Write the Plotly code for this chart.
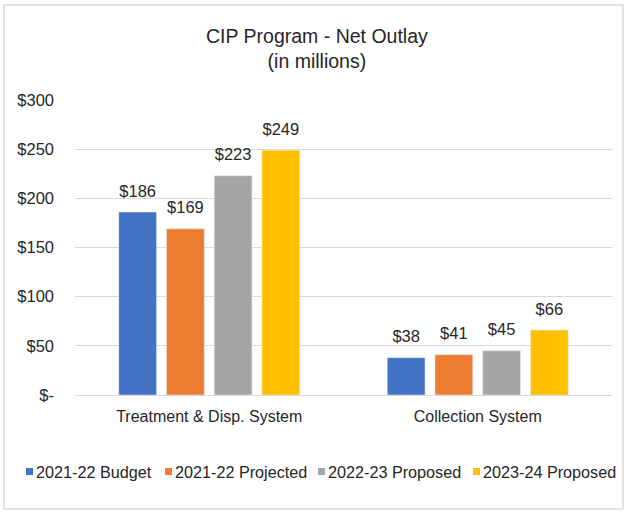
import plotly.graph_objects as go

categories = ["Treatment & Disp. System", "Collection System"]
series_names = ["2021-22 Budget", "2021-22 Projected", "2022-23 Proposed", "2023-24 Proposed"]
budget_2122 = [186, 38]
projected_2122 = [169, 41]
proposed_2223 = [223, 45]
proposed_2324 = [249, 66]
colors = ["#4472C4", "#ED7D31", "#A5A5A5", "#FFC000"]
tick_vals = [0, 50, 100, 150, 200, 250, 300]
tick_text = ["$-", "$50", "$100", "$150", "$200", "$250", "$300"]

FONT = "Liberation Sans, Arial, sans-serif"
TXT = "#262626"
W, H = 625, 515
ML, MR, MT, MB = 75, 13, 100, 120
PW, PH = W - ML - MR, H - MT - MB


def px2x(px):
    return (px - ML) / PW


def py2y(py):
    return (H - MB - py) / PH


fig = go.Figure()
for name, vals, col in zip(series_names, [budget_2122, projected_2122, proposed_2223, proposed_2324], colors):
    fig.add_trace(go.Bar(
        x=categories, y=vals, name=name, marker_color=col, showlegend=False,
        texttemplate="<span style='font-size:16.5px'>$%{y}</span><br>\u00a0",
        textposition="outside", constraintext="none",
        textfont=dict(size=8, color=TXT, family=FONT),
        cliponaxis=False,
    ))

# custom compact legend (Excel style: small square + label)
legend_marker_px = [26, 165, 318, 473]
shapes = [dict(type="rect", xref="paper", yref="paper",
               x0=px2x(4), x1=px2x(623), y0=py2y(509), y1=py2y(5),
               line=dict(color="#D9D9D9", width=1.5), fillcolor="rgba(0,0,0,0)", layer="below")]
annotations = []
for name, col, mx in zip(series_names, colors, legend_marker_px):
    shapes.append(dict(type="rect", xref="paper", yref="paper",
                       x0=px2x(mx), x1=px2x(mx + 7), y0=py2y(475), y1=py2y(468),
                       line=dict(width=0), fillcolor=col))
    annotations.append(dict(text=name, xref="paper", yref="paper",
                            x=px2x(mx + 8), y=py2y(471.5), xanchor="left", yanchor="middle",
                            showarrow=False, font=dict(size=16.2, color=TXT, family=FONT)))

fig.update_layout(
    width=W, height=H,
    margin=dict(l=ML, r=MR, t=MT, b=MB),
    paper_bgcolor="white", plot_bgcolor="white",
    font=dict(family=FONT, color=TXT),
    title=dict(text="CIP Program - Net Outlay<br>(in millions)", x=0.507, xanchor="center",
               y=0.917, yanchor="top", font=dict(size=19.5, color=TXT, family=FONT)),
    barmode="group", bargap=0.289, bargroupgap=0.209,
    showlegend=False,
    xaxis=dict(showline=True, linecolor="#D9D9D9", linewidth=1, ticks="", automargin=False,
               tickfont=dict(size=16, color=TXT, family=FONT), ticklabelstandoff=7),
    yaxis=dict(range=[0, 300], tickvals=tick_vals, ticktext=tick_text, automargin=False,
               showgrid=True, gridcolor="#D9D9D9", gridwidth=1, zeroline=False,
               tickfont=dict(size=16.5, color=TXT, family=FONT), ticklen=0,
               ticklabelstandoff=20),
    shapes=shapes,
    annotations=annotations,
)

fig.write_html("out.html", config={"displayModeBar": False},
               post_script="document.body.style.margin='0';")
